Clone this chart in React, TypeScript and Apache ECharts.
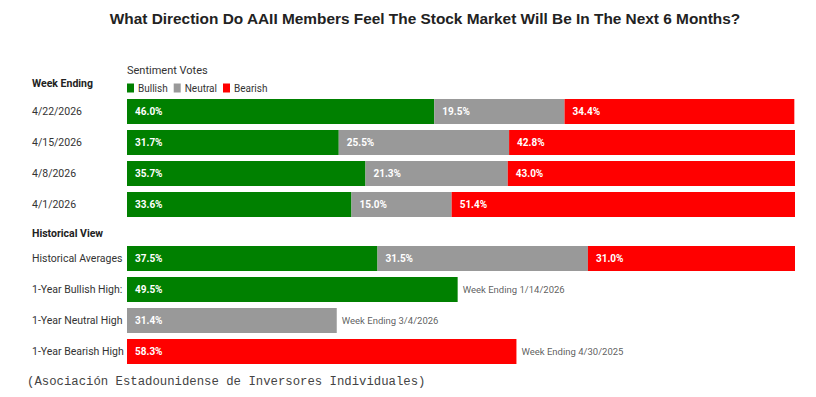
import React, { useEffect, useRef } from "react";
import * as echarts from "echarts";

const titleText = "What Direction Do AAII Members Feel The Stock Market Will Be In The Next 6 Months?";
const footerText = "(Asociación Estadounidense de Inversores Individuales)";
const seriesNames = ["Bullish", "Neutral", "Bearish"];

const weekCategories = ["4/22/2026", "4/15/2026", "4/8/2026", "4/1/2026"];
const weekBullish = [46.0, 31.7, 35.7, 33.6];
const weekNeutral = [19.5, 25.5, 21.3, 15.0];
const weekBearish = [34.4, 42.8, 43.0, 51.4];

const histCategories = ["Historical Averages", "1-Year Bullish High:", "1-Year Neutral High", "1-Year Bearish High"];
const histBullish: (number | null)[] = [37.5, 49.5, null, null];
const histNeutral: (number | null)[] = [31.5, null, 31.4, null];
const histBearish: (number | null)[] = [31.0, null, null, 58.3];
const histNotes = ["", "Week Ending 1/14/2026", "Week Ending 3/4/2026", "Week Ending 4/30/2025"];

const COLORS = ["#008000", "#999999", "#ff0000"];
const LABEL_FONT = "Roboto, 'Noto Sans', sans-serif";

export default function App() {
  const ref = useRef<HTMLDivElement>(null);
  useEffect(() => {
    if (!ref.current) return;
    const chart = echarts.init(ref.current, undefined, { renderer: "svg" });

    const barLabel = {
      show: true,
      position: "insideLeft",
      distance: 8,
      color: "#ffffff",
      fontWeight: "bold",
      fontSize: 10,
      fontFamily: LABEL_FONT,
      formatter: (p: any) => (p.value == null ? "" : Number(p.value).toFixed(1) + "%"),
    };

    const mkBars = (data: (number | null)[][], axisIndex: number, stack: string) =>
      data.map((d, i) => ({
        name: seriesNames[i],
        type: "bar",
        stack,
        xAxisIndex: axisIndex,
        yAxisIndex: axisIndex,
        barCategoryGap: "19%",
        itemStyle: { color: COLORS[i] },
        label: barLabel,
        data: d,
      }));

    const noteData = histCategories
      .map((c, i) => {
        const total = [histBullish[i], histNeutral[i], histBearish[i]].reduce(
          (s: number, v) => s + (v == null ? 0 : v),
          0
        );
        return { value: [total, c], note: histNotes[i] };
      })
      .filter((d) => d.note !== "");

    const xAxisBase = {
      type: "value",
      min: 0,
      max: 100,
      show: false,
    };
    const yAxisBase = (cats: string[], idx: number) => ({
      type: "category",
      data: cats,
      inverse: true,
      gridIndex: idx,
      axisLine: { show: false },
      axisTick: { show: false },
      axisLabel: {
        align: "left",
        margin: 95,
        color: "#333333",
        fontSize: 10.5,
        fontFamily: LABEL_FONT,
      },
    });

    chart.setOption({
      animation: false,
      backgroundColor: "#ffffff",
      title: {
        text: titleText,
        left: 420,
        textAlign: "center",
        top: 6,
        textStyle: {
          fontFamily: "'Liberation Sans', Arial, sans-serif",
          fontWeight: "bold",
          fontSize: 15.4,
          color: "#222222",
        },
      },
      legend: {
        data: seriesNames,
        left: 127,
        top: 83,
        padding: 0,
        icon: "rect",
        itemWidth: 7,
        itemHeight: 9,
        itemGap: 6,
        selectedMode: false,
        textStyle: { fontSize: 10, color: "#333333", fontFamily: LABEL_FONT, padding: [0, 0, 0, -1] },
      },
      grid: [
        { left: 127, right: 21, top: 96, height: 124 },
        { left: 127, right: 21, top: 243, height: 124 },
      ],
      xAxis: [
        { ...xAxisBase, gridIndex: 0 },
        { ...xAxisBase, gridIndex: 1 },
      ],
      yAxis: [yAxisBase(weekCategories, 0), yAxisBase(histCategories, 1)],
      series: [
        ...mkBars([weekBullish, weekNeutral, weekBearish], 0, "week"),
        ...mkBars([histBullish, histNeutral, histBearish], 1, "hist"),
        {
          type: "scatter",
          xAxisIndex: 1,
          yAxisIndex: 1,
          symbolSize: 0,
          silent: true,
          data: noteData,
          label: {
            show: true,
            position: "right",
            distance: 5,
            color: "#333333",
            fontSize: 9.5,
            fontFamily: LABEL_FONT,
            formatter: (p: any) => p.data.note,
          },
        },
      ],
      graphic: [
        {
          type: "text",
          left: 127,
          top: 65,
          style: { text: "Sentiment Votes", fontSize: 11, fill: "#333333", fontFamily: LABEL_FONT },
        },
        {
          type: "text",
          left: 32,
          top: 78,
          style: { text: "Week Ending", fontSize: 10.5, fontWeight: "bold", fill: "#222222", fontFamily: LABEL_FONT },
        },
        {
          type: "text",
          left: 32,
          top: 228,
          style: { text: "Historical View", fontSize: 10.5, fontWeight: "bold", fill: "#222222", fontFamily: LABEL_FONT },
        },
        {
          type: "text",
          left: 27,
          top: 376,
          style: {
            text: footerText,
            fontSize: 12.3,
            fill: "#444444",
            fontFamily: "'Liberation Mono', 'Courier New', monospace",
          },
        },
      ],
    });
    return () => chart.dispose();
  }, []);
  return (
    <div
      ref={ref}
      style={{ position: "fixed", left: 0, top: 0, width: 816, height: 397 }}
    />
  );
}
